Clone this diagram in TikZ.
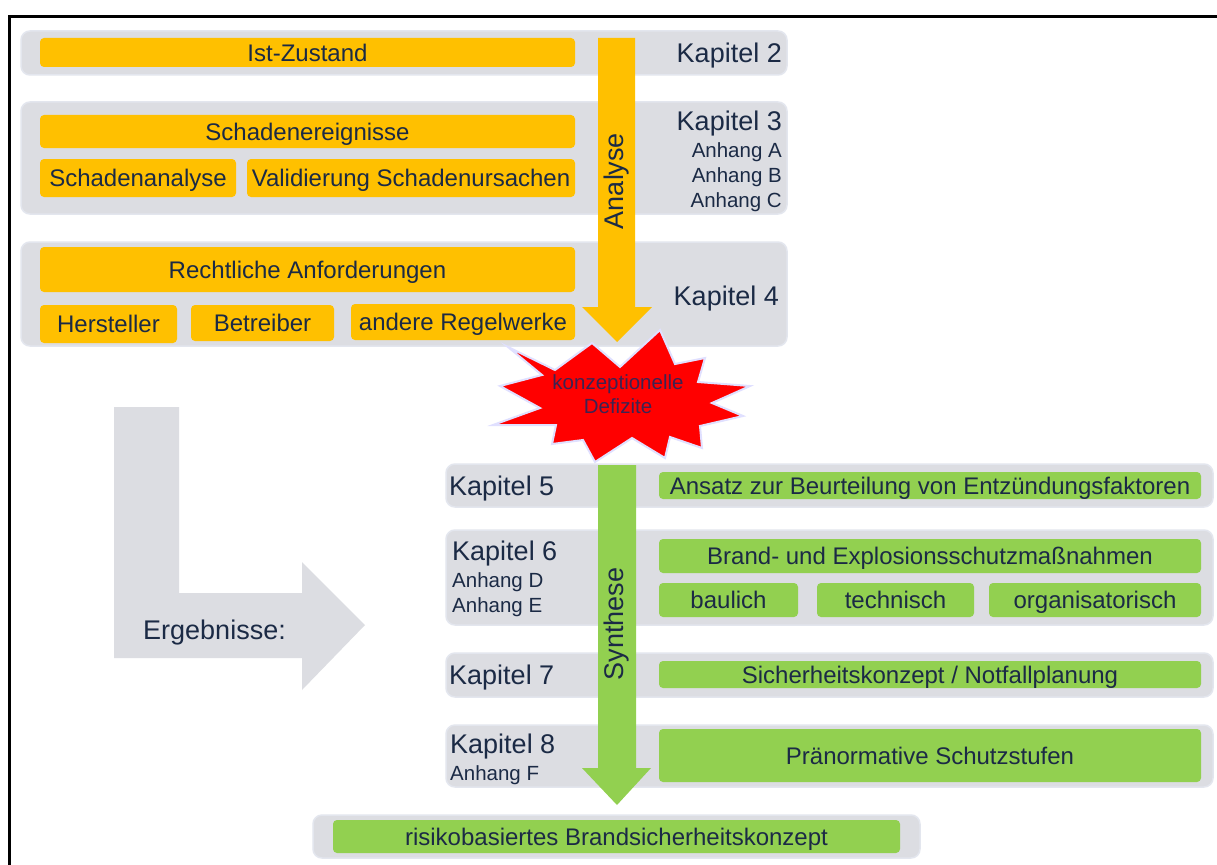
\documentclass[tikz,border=0pt]{standalone}
\usepackage{fontspec}
\setmainfont{Liberation Sans}
\definecolor{panel}{HTML}{DCDDE2}
\definecolor{panelrim}{HTML}{E3E6EE}
\definecolor{ambar}{HTML}{FFC000}
\definecolor{leaf}{HTML}{92D050}
\definecolor{ink}{HTML}{1B2A45}
\definecolor{starink}{HTML}{3D2352}
\newcommand\fsBox{\fontsize{24}{28}\selectfont}
\newcommand\fsKap{\fontsize{27}{31}\selectfont}
\newcommand\fsAnh{\fontsize{20.5}{24}\selectfont}
\newcommand\fsStar{\fontsize{20.5}{25}\selectfont}
\tikzset{
  panelbox/.style={fill=panel, draw=panelrim, line width=1.5pt, rounded corners=9pt, inner sep=0pt},
  ybar/.style={fill=ambar, rounded corners=4pt, inner sep=0pt, font=\fsBox, text=ink,
    text height=17.2pt, text depth=0pt},
  gbar/.style={fill=leaf, rounded corners=4pt, inner sep=0pt, font=\fsBox, text=ink,
    text height=17.2pt, text depth=0pt},
  kap/.style={font=\fsKap, text=ink, inner sep=0pt, text height=19.3pt, text depth=0pt},
  anh/.style={font=\fsAnh, text=ink, inner sep=0pt, text height=14.7pt, text depth=0pt},
  flowarrow/.style={line join=miter},
}
\begin{document}
\begin{tikzpicture}[x=1pt,y=-1pt]
\useasboundingbox (0,0) rectangle (1217,864);
\fill[white] (0,0) rectangle (1217,864);

% ---------------- analysis part ----------------
\node[panelbox, minimum width=766pt, minimum height=44pt] (p2) at (404,53) {};
\node[panelbox, minimum width=766pt, minimum height=112pt] (p3) at (404,158) {};
\node[panelbox, minimum width=766pt, minimum height=104pt] (p4) at (404,294) {};

\node[ybar, minimum width=535pt, minimum height=29pt] (ist) at (307.5,52.5) {Ist-Zustand};
\node[ybar, minimum width=535pt, minimum height=33pt] (ereig) at (307.5,131.5) {Schadenereignisse};
\node[ybar, minimum width=196pt, minimum height=38pt] (sana) at (138,178) {Schadenanalyse};
\node[ybar, minimum width=328pt, minimum height=38pt] (valid) at (411,178) {Validierung Schadenursachen};
\node[ybar, minimum width=535pt, minimum height=45pt] (recht) at (307.5,269.5) {Rechtliche Anforderungen};
\node[ybar, minimum width=137pt, minimum height=38pt] (herst) at (108.5,324) {Hersteller};
\node[ybar, minimum width=143pt, minimum height=36pt] (betr) at (262.5,323) {Betreiber};
\node[ybar, minimum width=224pt, minimum height=36pt] (regel) at (463,322) {andere Regelwerke};

\node[kap, anchor=east] (k2) at (782,53) {Kapitel 2};
\node[kap, anchor=east] (k3) at (782,121) {Kapitel 3};
\node[anh, anchor=east] (aA) at (782,150) {Anhang A};
\node[anh, anchor=east] (aB) at (782,175) {Anhang B};
\node[anh, anchor=east] (aC) at (782,200) {Anhang C};
\node[kap, anchor=east] (k4) at (779,296) {Kapitel 4};

% downward analysis arrow
\fill[ambar, flowarrow] (598,38) -- (635,38) -- (635,307) -- (652,307) -- (617,342)
  -- (582,307) -- (598,307) -- cycle;
\node[font=\fsKap, text=ink, rotate=90, inner sep=0pt] (analyse) at (617,181) {Analyse};

% ---------------- deficit burst ----------------
\filldraw[fill=red, draw=white!88!blue, line width=2pt, line join=miter]
  (508,347) -- (555,370) -- (592,343) -- (620,367) -- (660,330) -- (675,364)
  -- (705,358) -- (698,382) -- (750,386) -- (712,403) -- (743,416) -- (700,426)
  -- (702,448) -- (670,437) -- (665,458) -- (632,438) -- (595,462) -- (583,440)
  -- (552,444) -- (556,425) -- (493,425) -- (540,408) -- (500,386) -- (542,375) -- cycle;
\node[font=\fsStar, text=starink, align=center, inner sep=0pt] (defizit) at (618,394)
  {konzeptionelle\\[-1pt]Defizite};

% ---------------- results bend arrow ----------------
\fill[panel] (114,407) -- (179,407) -- (179,593) -- (302,593) -- (302,562) -- (365,625)
  -- (302,690) -- (302,658) -- (114,658) -- cycle;
\node[kap] (erg) at (214.5,630) {Ergebnisse:};

% ---------------- synthesis part ----------------
\node[panelbox, minimum width=767pt, minimum height=43pt] (p5) at (829.5,485.5) {};
\node[panelbox, minimum width=767pt, minimum height=95pt] (p6) at (829.5,577.5) {};
\node[panelbox, minimum width=767pt, minimum height=44pt] (p7) at (829.5,675) {};
\node[panelbox, minimum width=767pt, minimum height=62pt] (p8) at (829.5,756) {};
\node[panelbox, minimum width=607pt, minimum height=43pt] (p9) at (616.5,836.5) {};

\node[gbar, minimum width=542pt, minimum height=27pt] (ansatz) at (930,485.5)
  {Ansatz zur Beurteilung von Entzündungsfaktoren};
\node[gbar, minimum width=542pt, minimum height=34pt] (brand) at (930,556)
  {Brand- und Explosionsschutzmaßnahmen};
\node[gbar, minimum width=139pt, minimum height=34pt] (baul) at (728.5,600) {baulich};
\node[gbar, minimum width=157pt, minimum height=34pt] (tech) at (895.5,600) {technisch};
\node[gbar, minimum width=212pt, minimum height=34pt] (orga) at (1095,600) {organisatorisch};
\node[gbar, minimum width=542pt, minimum height=27pt] (sich) at (930,674.5)
  {Sicherheitskonzept / Notfallplanung};
\node[gbar, minimum width=542pt, minimum height=53pt] (stufen) at (930,755.5)
  {Pränormative Schutzstufen};
\node[gbar, minimum width=567pt, minimum height=33pt] (risiko) at (616.5,836.5)
  {risikobasiertes Brandsicherheitskonzept};

\node[kap, anchor=west] (k5) at (449,486) {Kapitel 5};
\node[kap, anchor=west] (k6) at (452,551) {Kapitel 6};
\node[anh, anchor=west] (aD) at (452,580) {Anhang D};
\node[anh, anchor=west] (aE) at (452,605) {Anhang E};
\node[kap, anchor=west] (k7) at (449,675) {Kapitel 7};
\node[kap, anchor=west] (k8) at (450,744) {Kapitel 8};
\node[anh, anchor=west] (aF) at (450,773) {Anhang F};

% downward synthesis arrow
\fill[leaf, flowarrow] (598,465) -- (636,465) -- (636,768) -- (651,768) -- (617,805)
  -- (582,768) -- (598,768) -- cycle;
\node[font=\fsKap, text=ink, rotate=90, inner sep=0pt] (synth) at (617,624) {Synthese};

% ---------------- frame ----------------
\draw[line width=3pt, line cap=rect] (9.5,870) -- (9.5,17) -- (1225,17);
\end{tikzpicture}
\end{document}
